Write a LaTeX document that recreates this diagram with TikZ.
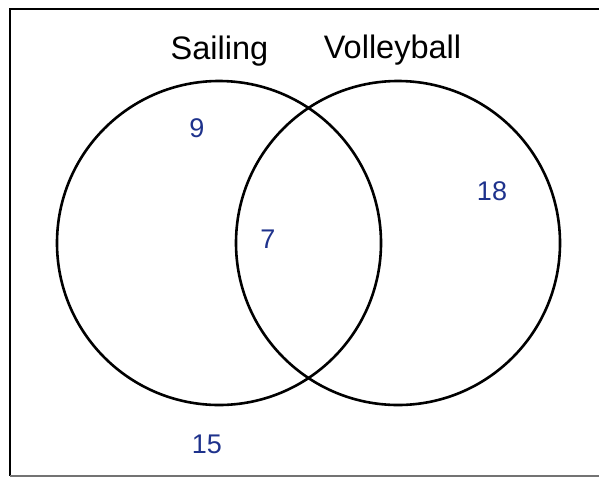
\documentclass[tikz,border=0pt]{standalone}
\usepackage{fontspec}
\setmainfont{Liberation Sans}
\definecolor{numblue}{RGB}{30,50,140}
\begin{document}
\begin{tikzpicture}[x=1pt,y=-1pt,
  setcircle/.style={circle,draw=black,line width=2.6pt,minimum size=324pt,inner sep=0pt},
  setlabel/.style={anchor=base,font=\fontsize{32.5}{37}\selectfont,text=black,inner sep=0pt},
  count/.style={anchor=base,font=\fontsize{27}{31}\selectfont,text=numblue,inner sep=0pt}]
\useasboundingbox (0,0) rectangle (599,477);
% frame
\coordinate (tr) at (605,9);
\coordinate (tl) at (10,9);
\coordinate (bl) at (10,476);
\coordinate (br) at (605,476);
\draw[line width=2.8pt,black] (tr) -- (tl) -- (bl);
\draw[line width=1.5pt,black!55] (bl) -- (br);
% sets
\node[setcircle] (sail) at (219,243) {};
\node[setcircle] (volley) at (398,243) {};
\node[setlabel] (sailt) at (219.5,59) {Sailing};
\node[setlabel] (volleyt) at (392.5,58) {Volleyball};
% counts
\node[count] (n9) at (197,137) {9};
\node[count] (n7) at (268,248) {7};
\node[count] (n18) at (492,200) {18};
\node[count] (n15) at (207,453) {15};
\end{tikzpicture}
\end{document}
